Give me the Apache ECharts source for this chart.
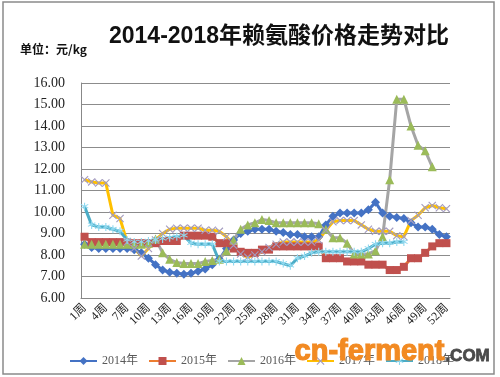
<!DOCTYPE html>
<html lang="zh">
  <head>
    <meta charset="UTF-8" />
    <title>赖氨酸价格走势</title>
    <style>
      html, body { margin: 0; padding: 0; background: #fff; }
      #main { width: 500px; height: 377px; }
    </style>
    <script src="https://cdn.jsdelivr.net/npm/echarts@6/dist/echarts.min.js"></script>
  </head>
  <body>
    <div id="main"></div>
    <script>
      // 周次
      const weeks = []
      for (let i = 1; i <= 52; i++) weeks.push(i + '周')

      const y2014 = [8.5, 8.35, 8.3, 8.3, 8.3, 8.3, 8.3, 8.25, 8.1, 7.85, 7.55, 7.3, 7.2, 7.15, 7.1, 7.15, 7.25, 7.35, 7.55, 7.8,
        8.3, 8.7, 9.0, 9.1, 9.2, 9.2, 9.2, 9.1, 9.05, 8.95, 8.95, 8.85, 8.85, 8.85, 9.4, 9.8, 9.95, 9.95, 9.95, 9.95,
        10.1, 10.45, 9.95, 9.8, 9.75, 9.7, 9.5, 9.3, 9.3, 9.2, 8.95, 8.85]
      const y2015 = [8.85, 8.6, 8.6, 8.6, 8.6, 8.6, 8.6, 8.55, 8.55, 8.55, 8.55, 8.65, 8.65, 8.65, 8.9, 8.9, 8.9, 8.9, 8.85, 8.55,
        8.55, 8.3, 8.15, 8.1, 8.1, 8.25, 8.25, 8.4, 8.4, 8.4, 8.4, 8.4, 8.4, 8.4, 7.85, 7.85, 7.85, 7.7, 7.7, 7.7,
        7.55, 7.55, 7.55, 7.3, 7.3, 7.45, 7.85, 7.85, 8.1, 8.4, 8.55, 8.55]
      const y2016 = [8.5, 8.5, 8.5, 8.5, 8.5, 8.5, 8.5, 8.5, 8.5, 8.55, 8.75, 8.1, 7.8, 7.65, 7.6, 7.6, 7.6, 7.7, 7.75, 7.8,
        8.2, 8.7, 9.2, 9.4, 9.5, 9.65, 9.6, 9.5, 9.5, 9.5, 9.5, 9.5, 9.5, 9.45, 9.2, 8.8, 8.8, 8.55, 8.05, 8.05,
        8.05, 8.2, 8.85, 11.5, 15.25, 15.25, 14.0, 13.1, 12.85, 12.1, null, null]
      const y2017 = [11.5, 11.4, 11.35, 11.35, 9.85, 9.7, 8.6, 8.3, 7.95, 8.3, 8.7, 9.0, 9.2, 9.25, 9.25, 9.25, 9.25, 9.15, 9.15, 9.1,
        8.85, 8.45, 8.05, 7.9, 8.0, 8.15, 8.35, 8.5, 8.6, 8.6, 8.6, 8.6, 8.6, 8.7, 9.15, 9.55, 9.6, 9.6, 9.6, 9.4,
        9.2, 9.1, 9.1, 9.1, 8.9, 8.85, 9.6, 9.85, 10.2, 10.3, 10.2, 10.15]
      const y2018 = [10.25, 9.4, 9.3, 9.3, 9.2, 9.1, 8.7, 8.6, 8.6, 8.65, 8.7, 8.75, 8.8, 8.85, 8.9, 8.55, 8.5, 8.5, 8.5, 7.7,
        7.7, 7.7, 7.7, 7.7, 7.7, 7.7, 7.7, 7.7, 7.6, 7.5, 7.85, 7.95, 8.1, 8.15, 8.15, 8.15, 8.15, 8.15, 8.15, 8.15,
        8.3, 8.5, 8.55, 8.55, 8.6, 8.6, null, null, null, null, null, null]

      const crossPath = 'path://M0,1 L1,0 L5,4 L9,0 L10,1 L6,5 L10,9 L9,10 L5,6 L1,10 L0,9 L4,5 Z'
      const starPath = 'path://M4.4,0 L5.6,0 L5.6,3.6 L8.7,1.8 L9.3,2.8 L6.2,4.6 L9.3,6.4 L8.7,7.4 L5.6,5.6 L5.6,10 L4.4,10 L4.4,5.6 L1.3,7.4 L0.7,6.4 L3.8,4.6 L0.7,2.8 L1.3,1.8 L4.4,3.6 Z'

      const serif = '"Liberation Serif", "Noto Sans CJK SC", serif'

      function makeLine(name, data, lineColor, markColor, symbol, size) {
        return {
          name: name,
          type: 'line',
          data: data,
          symbol: symbol,
          symbolSize: size,
          showAllSymbol: true,
          connectNulls: false,
          lineStyle: { color: lineColor, width: 3 },
          itemStyle: { color: markColor, borderWidth: 0 }
        }
      }

      const chart = echarts.init(document.getElementById('main'))

      const option = {
        animation: false,
        title: {
          text: '2014-2018年赖氨酸价格走势对比',
          left: 104,
          top: 20,
          textStyle: {
            fontFamily: '"Liberation Sans", "Noto Sans CJK SC", sans-serif',
            fontSize: 23,
            fontWeight: 'bold',
            color: '#111'
          }
        },
        graphic: [
          {
            type: 'rect',
            shape: { x: 3, y: 2, width: 491, height: 372 },
            style: { fill: 'none', stroke: '#8a8a8a', lineWidth: 1.5 },
            silent: true
          },
          {
            type: 'text',
            left: 20,
            top: 43,
            style: {
              text: '单位：元/kg',
              font: 'bold 12px "Noto Sans CJK SC", sans-serif',
              fill: '#111'
            }
          },
          {
            type: 'text',
            left: 294,
            top: 337,
            z: 100,
            style: {
              text: 'cn-ferment',
              font: 'bold 29px "Liberation Sans", sans-serif',
              fill: '#F28A22',
              stroke: '#F28A22',
              lineWidth: 1.2
            }
          },
          {
            type: 'text',
            left: 445,
            top: 347,
            z: 100,
            style: {
              text: '.COM',
              font: 'bold 17px "Liberation Sans", sans-serif',
              fill: '#4a4a4a',
              stroke: '#4a4a4a',
              lineWidth: 0.8
            }
          }
        ],
        legend: {
          left: 64,
          top: 350,
          itemWidth: 27,
          itemHeight: 10,
          itemGap: 10,
          textStyle: { fontFamily: serif, fontSize: 12, color: '#595959' },
          data: ['2014年', '2015年', '2016年', '2017年', '2018年']
        },
        grid: { left: 81, right: 50, top: 83, bottom: 79 },
        xAxis: {
          type: 'category',
          data: weeks,
          boundaryGap: true,
          axisLine: { show: true, lineStyle: { color: '#888', width: 1 } },
          axisTick: { show: false },
          axisLabel: {
            interval: 2,
            rotate: 45,
            margin: 8,
            fontFamily: serif,
            fontSize: 12,
            color: '#222'
          }
        },
        yAxis: {
          type: 'value',
          min: 6,
          max: 16,
          interval: 1,
          axisLine: { show: true, lineStyle: { color: '#888', width: 1 } },
          axisTick: { show: false },
          splitLine: { lineStyle: { color: '#8c8c8c', width: 1 } },
          axisLabel: {
            margin: 16,
            fontFamily: serif,
            fontSize: 14,
            color: '#222',
            formatter: v => v.toFixed(2)
          }
        },
        series: [
          makeLine('2014年', y2014, '#4472C4', '#4472C4', 'diamond', 9),
          makeLine('2015年', y2015, '#ED7D31', '#C0504D', 'rect', 8),
          makeLine('2016年', y2016, '#A5A5A5', '#9BBB59', 'triangle', 9),
          makeLine('2017年', y2017, '#FFC000', '#A39BBF', crossPath, 8),
          makeLine('2018年', y2018, '#4BACC6', '#8FD9F0', starPath, 8)
        ]
      }

      chart.setOption(option)
    </script>
  </body>
</html>
